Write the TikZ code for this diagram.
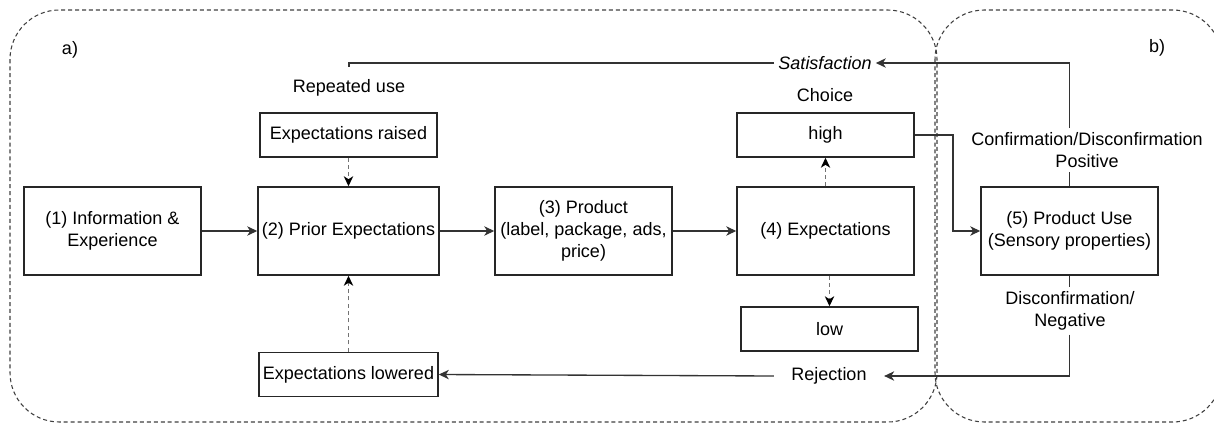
\documentclass[tikz,border=0pt]{standalone}
\usepackage{fontspec}
\setmainfont{Liberation Sans}
\usetikzlibrary{arrows.meta}
\tikzset{
  every node/.style={font=\fontsize{13.5}{16.5}\selectfont, inner sep=3pt},
  box/.style={draw=black!85, line width=1.1pt, minimum width=132.75pt, minimum height=66pt, align=center},
  sbox/.style={box, minimum height=33pt},
  lbl/.style={align=center},
  conn/.style={draw=black!80, line width=1pt},
  arr/.style={conn, -{Stealth[length=7.5pt, width=7pt, inset=2.2pt]}},
  darr/.style={draw=black!55, line width=1pt, dash pattern=on 3pt off 2.5pt, -{Stealth[length=7.5pt, width=7pt, inset=2.2pt, color=black]}},
  container/.style={draw=black!75, line width=0.8pt, dash pattern=on 3pt off 2.2pt, rounded corners=37pt},
}
\begin{document}
\begin{tikzpicture}[x=0.75pt, y=-0.75pt]
\useasboundingbox (0,0) rectangle (1214,425);
% containers
\draw[container] (10,10) rectangle (937,422);
\draw[container] (935,10) rectangle (1222,422);
\node at (70,50) {a)};
\node at (1157,48) {b)};
% boxes
\node[box] (n1) at (112.5,231) {(1) Information \&\\Experience};
\node[box] (n2) at (348.5,231) {(2) Prior Expectations};
\node[sbox] (raised) at (348.5,135) {Expectations raised};
\node[sbox] (lowered) at (348.5,374.5) {Expectations lowered};
\node[box] (n3) at (583.5,231) {(3) Product\\(label, package, ads,\\price)};
\node[box] (n4) at (825.5,231) {(4) Expectations};
\node[sbox] (high) at (825.5,135) {high};
\node[sbox] (low) at (829.5,329) {low};
\node[box] (n5) at (1069.5,231) {(5) Product Use\\(Sensory properties)};
% text labels
\node (repeated) at (349,88) {Repeated use};
\node (satisf) at (825,63) {\itshape Satisfaction};
\node (choice) at (825,95) {Choice};
\node[lbl] (conf) at (1087,150) {Confirmation/Disconfirmation\\Positive};
\node[lbl] (disconf) at (1070,311) {Disconfirmation/\\Negative};
\node[inner xsep=13pt] (rejection) at (829,376) {Rejection};
\coordinate (hturn) at (953,135);
% connectors
\draw[arr] (n1) -- (n2);
\draw[arr] (n2) -- (n3);
\draw[arr] (n3) -- (n4);
\draw[darr] (raised) -- (n2);
\draw[darr] (lowered) -- (n2);
\draw[darr] (n4) -- (high);
\draw[darr] (low.north |- n4.south) -- (low.north);
\draw[arr] (high.east) -- (hturn) |- (n5.west);
\draw[conn] (n5.north) -- (n5.north |- conf.south);
\draw[arr] (n5.north |- conf.north) |- (satisf.east);
\draw[conn] (satisf.west) -| ([yshift=6pt]repeated.north);
\draw[conn] (n5.south) -- (n5.south |- disconf.north);
\draw[arr] (n5.south |- disconf.south) |- (rejection.east);
\draw[arr] (rejection.west) -- (lowered.east);
\end{tikzpicture}
\end{document}
